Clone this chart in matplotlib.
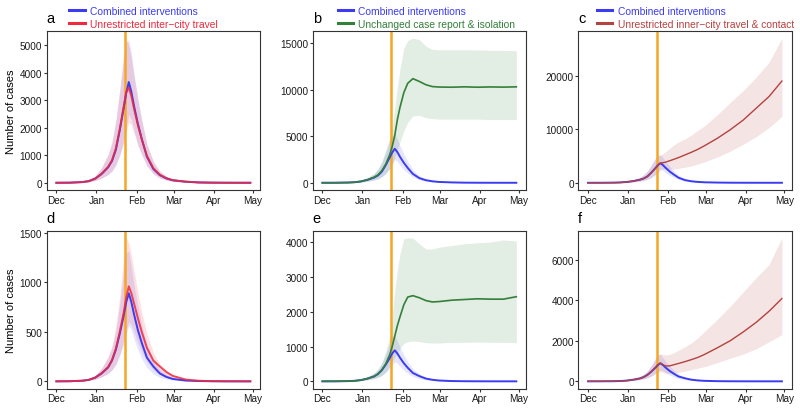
import numpy as np
import pandas as pd
import matplotlib.pyplot as plt
import matplotlib.dates as mdates
from matplotlib.lines import Line2D

plt.rcParams.update({
    "font.family": ["Liberation Sans", "DejaVu Sans"],
    "font.size": 7.2,
    "axes.linewidth": 0.8,
    "axes.edgecolor": "#333333",
    "xtick.color": "#333333",
    "ytick.color": "#333333",
    "xtick.labelcolor": "#1a1a1a",
    "ytick.labelcolor": "#1a1a1a",
    "xtick.major.size": 2,
    "ytick.major.size": 2,
    "xtick.major.pad": 1.5,
    "ytick.major.pad": 1.2,
})

# days since 2019-12-01
day_offsets = [0, 10, 20, 25, 30, 35, 40, 43, 46, 49, 52, 54, 56, 58, 60, 63,
               66, 70, 75, 80, 85, 90, 100, 110, 120, 130, 140, 150]
start = pd.Timestamp("2019-12-01")
lockdown = pd.Timestamp("2020-01-23")
dates = start + pd.to_timedelta(day_offsets, unit="D")

# --- top row (a, b, c) ---
combined_top = [0, 3, 25, 60, 150, 320, 560, 790, 1200, 1900, 2700, 3250, 3660, 3300,
                2800, 2150, 1600, 950, 500, 280, 160, 90, 40, 12, 4, 1, 0, 0]
combined_top_hi = [0, 5, 40, 100, 250, 550, 1000, 1450, 2200, 3300, 4500, 5100, 5200, 4700,
                   4000, 3100, 2300, 1400, 760, 420, 240, 135, 60, 20, 7, 2, 1, 0]
combined_top_lo = [0, 1, 12, 30, 80, 170, 300, 420, 650, 1000, 1500, 2000, 2500, 2300,
                   1900, 1400, 1050, 620, 320, 170, 95, 52, 18, 6, 2, 0, 0, 0]

intercity_top = [0, 3, 25, 60, 150, 330, 580, 820, 1250, 1950, 2750, 3300, 3450, 3150,
                 2700, 2100, 1580, 980, 530, 290, 165, 95, 40, 12, 4, 1, 0, 0]
intercity_top_hi = [0, 5, 40, 100, 250, 560, 1050, 1500, 2300, 3400, 4700, 5250, 5000, 4500,
                    3850, 3000, 2250, 1400, 780, 420, 240, 135, 60, 20, 7, 2, 1, 0]
intercity_top_lo = [0, 1, 12, 30, 80, 170, 300, 430, 650, 1000, 1450, 1850, 2200, 2100,
                    1800, 1350, 1000, 620, 330, 175, 95, 55, 20, 6, 2, 0, 0, 0]

report_top = [0, 3, 25, 60, 150, 330, 600, 850, 1300, 2000, 3000, 3900, 5100, 6800,
              8100, 9700, 10700, 11200, 10900, 10550, 10350, 10300, 10280, 10320, 10280,
              10310, 10290, 10320]
report_top_hi = [0, 5, 40, 100, 250, 550, 1000, 1500, 2300, 3500, 4800, 6000, 8000, 10300,
                 12200, 14500, 15300, 15550, 15400, 14700, 14350, 14300, 14300, 14300,
                 14300, 14250, 14250, 14200]
report_top_lo = [0, 1, 12, 30, 80, 170, 300, 420, 650, 1000, 1500, 2000, 2700, 3500,
                 4400, 5600, 6500, 7200, 7250, 7000, 6900, 6850, 6850, 6850, 6850, 6800,
                 6800, 6800]

innercity_top = [0, 3, 25, 60, 150, 320, 560, 790, 1200, 1900, 2700, 3250, 3700, 3750,
                 3850, 4100, 4350, 4700, 5200, 5700, 6250, 6900, 8300, 9900, 11700, 13900,
                 16100, 19000]
innercity_top_hi = [0, 5, 40, 100, 250, 550, 1000, 1450, 2200, 3300, 4500, 5000, 5200, 5400,
                    5800, 6400, 7000, 7600, 8200, 8900, 9800, 10600, 12700, 15000, 17200,
                    19700, 22500, 27000]
innercity_top_lo = [0, 1, 12, 30, 80, 170, 300, 420, 650, 1000, 1500, 2000, 2500, 2600,
                    2600, 2550, 2550, 2700, 2900, 3150, 3500, 3900, 4800, 5900, 7200, 8600,
                    10300, 12400]

# --- bottom row (d, e, f) ---
combined_bot = [0, 1, 6, 15, 37, 80, 140, 210, 320, 480, 660, 800, 890, 800,
                680, 520, 390, 240, 150, 80, 45, 24, 8, 3, 1, 0, 0, 0]
combined_bot_hi = [0, 2, 10, 25, 60, 130, 240, 340, 510, 780, 1100, 1300, 1320, 1150,
                   980, 760, 570, 360, 210, 120, 70, 40, 15, 5, 2, 1, 0, 0]
combined_bot_lo = [0, 0, 3, 8, 20, 45, 80, 115, 170, 260, 380, 480, 560, 520,
                   430, 320, 230, 140, 75, 40, 22, 12, 4, 1, 0, 0, 0, 0]

intercity_bot = [0, 1, 6, 15, 38, 82, 145, 215, 330, 500, 690, 850, 960, 890,
                 790, 640, 500, 340, 210, 150, 95, 55, 18, 6, 2, 1, 0, 0]
intercity_bot_hi = [0, 2, 10, 25, 60, 135, 250, 360, 560, 860, 1250, 1450, 1400, 1280,
                    1120, 900, 700, 480, 290, 175, 110, 65, 25, 9, 3, 1, 0, 0]
intercity_bot_lo = [0, 0, 3, 8, 20, 45, 80, 115, 175, 270, 400, 520, 600, 570,
                    500, 390, 300, 200, 115, 65, 38, 22, 8, 3, 1, 0, 0, 0]

report_bot = [0, 1, 6, 15, 37, 80, 145, 210, 330, 500, 760, 1000, 1300, 1600,
              1850, 2200, 2420, 2460, 2400, 2320, 2280, 2290, 2330, 2350, 2370, 2360,
              2360, 2430]
report_bot_hi = [0, 2, 10, 25, 60, 130, 240, 350, 540, 850, 1300, 1900, 2600, 3200,
                 3650, 4100, 4120, 4110, 3950, 3800, 3800, 3850, 3900, 3950, 3980, 4000,
                 4060, 4030]
report_bot_lo = [0, 0, 3, 8, 20, 45, 80, 115, 170, 270, 420, 560, 700, 820,
                 950, 1090, 1140, 1160, 1140, 1110, 1100, 1100, 1120, 1120, 1130, 1120,
                 1120, 1110]

innercity_bot = [0, 1, 6, 15, 37, 80, 140, 200, 310, 480, 680, 820, 900, 820,
                 760, 760, 810, 880, 970, 1070, 1180, 1320, 1650, 2000, 2430, 2900,
                 3450, 4080]
innercity_bot_hi = [0, 2, 10, 25, 60, 130, 240, 340, 510, 780, 1100, 1300, 1350, 1320,
                    1300, 1320, 1400, 1530, 1700, 1890, 2150, 2450, 3050, 3700, 4400,
                    5100, 5750, 7070]
innercity_bot_lo = [0, 0, 3, 8, 20, 45, 80, 115, 170, 260, 380, 460, 480, 440,
                    400, 390, 410, 440, 500, 575, 650, 720, 920, 1140, 1340, 1600,
                    1950, 2300]

y_ticks = {
    "a": [0, 1000, 2000, 3000, 4000, 5000],
    "b": [0, 5000, 10000, 15000],
    "c": [0, 10000, 20000],
    "d": [0, 500, 1000, 1500],
    "e": [0, 1000, 2000, 3000, 4000],
    "f": [0, 2000, 4000, 6000],
}

label_combined = "Combined interventions"
label_intercity = "Unrestricted inter\u2212city travel"
label_report = "Unchanged case report & isolation"
label_innercity = "Unrestricted inner\u2212city travel & contact"

c_blue = "#3b3bf2"
c_red = "#ee2a3c"
c_green = "#33803a"
c_brown = "#b4423f"
c_orange = "#f5a623"

# letter, col, row, combined set, other set, other label, colour, lw, alpha, legend x
panels = [
    ("a", 0, 0, (combined_top, combined_top_lo, combined_top_hi),
     (intercity_top, intercity_top_lo, intercity_top_hi), label_intercity, c_red, 1.4, 0.85, 0.105),
    ("b", 1, 0, (combined_top, combined_top_lo, combined_top_hi),
     (report_top, report_top_lo, report_top_hi), label_report, c_green, 1.2, 1.0, 0.118),
    ("c", 2, 0, (combined_top, combined_top_lo, combined_top_hi),
     (innercity_top, innercity_top_lo, innercity_top_hi), label_innercity, c_brown, 1.0, 1.0, 0.088),
    ("d", 0, 1, (combined_bot, combined_bot_lo, combined_bot_hi),
     (intercity_bot, intercity_bot_lo, intercity_bot_hi), label_intercity, c_red, 1.4, 0.85, None),
    ("e", 1, 1, (combined_bot, combined_bot_lo, combined_bot_hi),
     (report_bot, report_bot_lo, report_bot_hi), label_report, c_green, 1.2, 1.0, None),
    ("f", 2, 1, (combined_bot, combined_bot_lo, combined_bot_hi),
     (innercity_bot, innercity_bot_lo, innercity_bot_hi), label_innercity, c_brown, 1.0, 1.0, None),
]

W, H = 800, 410
col_left = [46.7, 312.7, 578.3]
row_top = [32, 231.7]
row_bottom = [191, 389.5]
ax_w = 213.3

fig = plt.figure(figsize=(W / 100, H / 100), dpi=100)

for letter, col, row, comb, other, other_label, other_c, other_lw, other_a, leg_x in panels:
    left = col_left[col] / W
    bottom = 1 - row_bottom[row] / H
    height = (row_bottom[row] - row_top[row]) / H
    ax = fig.add_axes([left, bottom, ax_w / W, height])

    # uncertainty ribbons
    ax.fill_between(dates, comb[1], comb[2], color=c_blue, alpha=0.13, lw=0, zorder=1)
    ax.fill_between(dates, other[1], other[2], color=other_c, alpha=0.14, lw=0, zorder=1)

    ax.axvline(lockdown, color=c_orange, lw=1.8, zorder=2)

    ax.plot(dates, comb[0], color=c_blue, lw=1.4, zorder=3)
    ax.plot(dates, other[0], color=other_c, lw=other_lw, alpha=other_a, zorder=4)

    ymax = max(max(comb[2]), max(other[2]))
    ax.set_ylim(-0.05 * ymax, 1.05 * ymax)
    ax.set_yticks(y_ticks[letter])
    ax.set_xlim(start - pd.Timedelta(days=7.5), start + pd.Timedelta(days=157.5))
    ax.xaxis.set_major_locator(mdates.MonthLocator())
    ax.xaxis.set_major_formatter(mdates.DateFormatter("%b"))

    if col == 0:
        ax.set_ylabel("Number of cases", fontsize=8, labelpad=3)

    ax.text(0.0, 1.035, letter, transform=ax.transAxes, fontsize=10.5,
            ha="left", va="bottom")

    if leg_x is not None:
        handles = [Line2D([], [], color=c_blue, lw=2.2),
                   Line2D([], [], color=other_c, lw=2.2)]
        ax.legend(handles, [label_combined, other_label], loc="lower left",
                  bbox_to_anchor=(leg_x, 1.015), frameon=False, fontsize=7.4,
                  handlelength=1.5, handletextpad=0.5, labelspacing=0.25,
                  borderaxespad=0, borderpad=0, labelcolor=[c_blue, other_c])

fig.savefig("out.png", dpi=100)
